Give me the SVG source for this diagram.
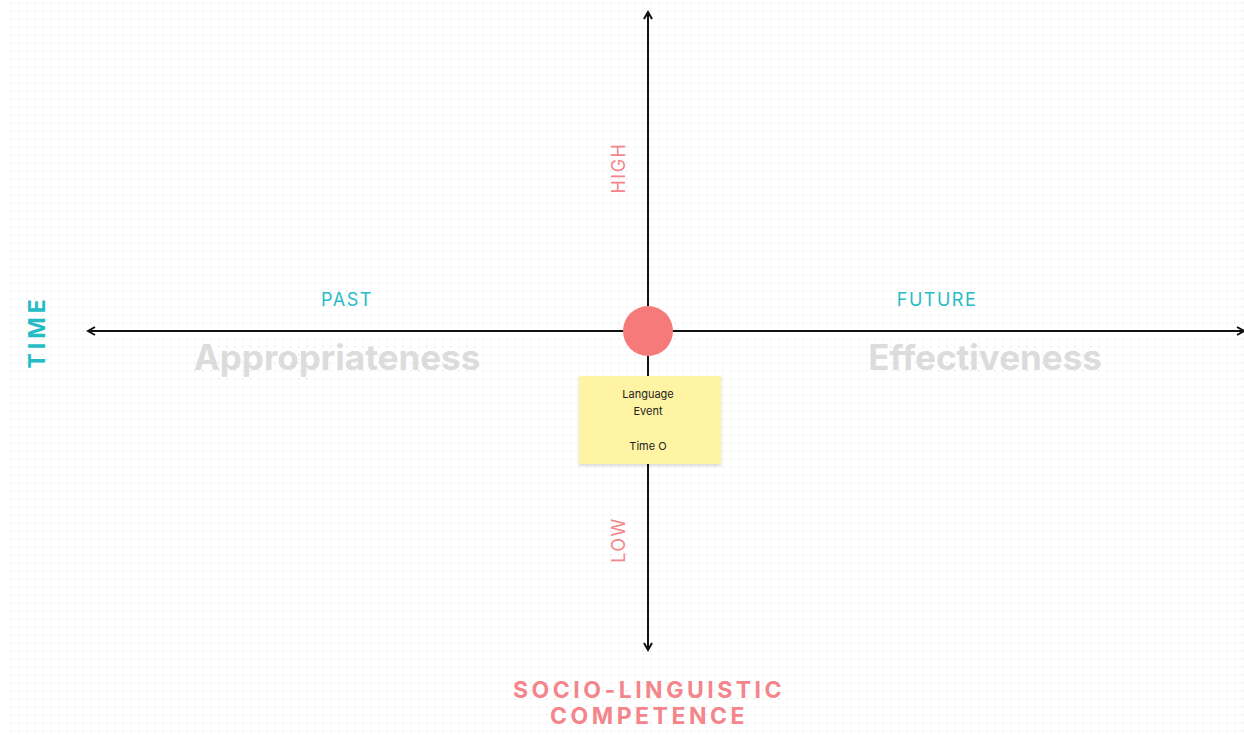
<svg xmlns="http://www.w3.org/2000/svg" width="1244" height="735" viewBox="0 0 1244 735">
<defs>
<pattern id="dots" x="2" y="2" width="8" height="8" patternUnits="userSpaceOnUse">
<rect x="0" y="0" width="1.5" height="1.5" fill="#e6e6e6"/>
</pattern>
<marker id="arr" viewBox="0 0 10 10" refX="8" refY="5" markerWidth="10" markerHeight="10" markerUnits="userSpaceOnUse" orient="auto">
<path d="M1,1 L8,5 L1,9" fill="none" stroke="#111" stroke-width="2"/>
</marker>
<filter id="sh" x="-10%" y="-10%" width="120%" height="130%">
<feDropShadow dx="0" dy="2" stdDeviation="1.5" flood-color="#000" flood-opacity="0.15"/>
</filter>
</defs>
<style>
.teal{fill:#26bcc6;font-family:"Inter","Liberation Sans",sans-serif;}
.salmon{fill:#f4858a;font-family:"Inter","Liberation Sans",sans-serif;}
.big{fill:#dcdcdc;font-family:"Inter","Liberation Sans",sans-serif;font-weight:700;font-size:35px;}
.axis{stroke:#111;stroke-width:2;fill:none;}
.note{font-family:"Inter","Liberation Sans",sans-serif;font-size:11px;fill:#222;}
</style>
<rect width="1244" height="735" fill="#ffffff"/>
<rect x="10" y="0" width="1234" height="732" fill="url(#dots)"/>
<g id="connectors">
<line class="axis" x1="648" y1="650" x2="648" y2="12" marker-end="url(#arr)"/>
<line class="axis" x1="648" y1="331" x2="648" y2="650" marker-end="url(#arr)"/>
<line class="axis" x1="648" y1="331" x2="88" y2="331" marker-end="url(#arr)"/>
<line class="axis" x1="648" y1="331" x2="1244" y2="331" marker-end="url(#arr)"/>
</g>
<g id="origin">
<circle cx="648" cy="331" r="25" fill="#f67a7a"/>
</g>
<g id="note">
<rect x="579" y="376" width="142" height="88" fill="#fff4a3" filter="url(#sh)"/>
<text class="note" x="648" y="398" text-anchor="middle">Language</text>
<text class="note" x="648" y="415" text-anchor="middle">Event</text>
<text class="note" x="648" y="450" text-anchor="middle">Time O</text>
</g>
<g id="labels">
<text class="teal" x="347" y="306" font-size="18" text-anchor="middle" letter-spacing="1.5">PAST</text>
<text class="teal" x="937" y="306" font-size="18" text-anchor="middle" letter-spacing="1.5">FUTURE</text>
<text class="big" x="337" y="370" text-anchor="middle">Appropriateness</text>
<text class="big" x="985" y="370" text-anchor="middle">Effectiveness</text>
<text class="teal" x="0" y="0" font-size="23" font-weight="700" text-anchor="middle" letter-spacing="4" transform="translate(45,332) rotate(-90)">TIME</text>
<text class="salmon" x="0" y="0" font-size="18" text-anchor="middle" letter-spacing="1.5" transform="translate(625,168) rotate(-90)">HIGH</text>
<text class="salmon" x="0" y="0" font-size="18" text-anchor="middle" letter-spacing="1.5" transform="translate(625,540) rotate(-90)">LOW</text>
<text class="salmon" x="649" y="698" font-size="23" font-weight="700" text-anchor="middle" letter-spacing="3.5">SOCIO-LINGUISTIC</text>
<text class="salmon" x="649" y="724" font-size="23" font-weight="700" text-anchor="middle" letter-spacing="3.5">COMPETENCE</text>
</g>
</svg>
